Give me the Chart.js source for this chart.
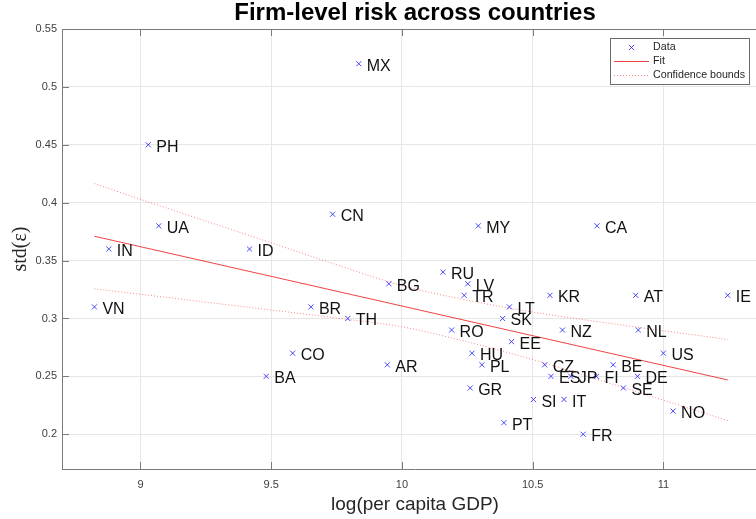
<!DOCTYPE html>
<html>
<head>
<meta charset="utf-8">
<script src="https://cdn.jsdelivr.net/npm/chart.js@4/dist/chart.umd.min.js"></script>
<style>
  html, body { margin: 0; padding: 0; background: #fff; overflow: hidden; }
  #wrap { width: 800px; height: 519px; }
  canvas { display: block; }
</style>
</head>
<body>
<div id="wrap"><canvas id="c" width="800" height="519"></canvas></div>
<script>
// Country codes and their (log per capita GDP, firm-level risk) pairs
const countries = ['MX','PH','CN','UA','MY','CA','IN','ID','RU','BG','LV','TR','KR','AT','IE',
                   'VN','BR','LT','TH','SK','RO','NZ','NL','EE','CO','HU','US','AR','PL','CZ',
                   'BE','BA','ES','JP','FI','DE','GR','SE','SI','IT','NO','PT','FR'];
const logGdp = [9.835, 9.030, 9.735, 9.070, 10.292, 10.746, 8.879, 9.417, 10.157, 9.950, 10.252, 10.238, 10.566, 10.894, 11.246,
                8.824, 9.652, 10.411, 9.793, 10.385, 10.190, 10.614, 10.904, 10.419, 9.582, 10.268, 11.000, 9.944, 10.306, 10.546,
                10.808, 9.481, 10.570, 10.646, 10.744, 10.901, 10.261, 10.847, 10.503, 10.620, 11.037, 10.390, 10.693];
const riskStd = [0.52, 0.45, 0.39, 0.38, 0.38, 0.38, 0.36, 0.36, 0.34, 0.33, 0.33, 0.32, 0.32, 0.32, 0.32,
                 0.31, 0.31, 0.31, 0.30, 0.30, 0.29, 0.29, 0.29, 0.28, 0.27, 0.27, 0.27, 0.26, 0.26, 0.26,
                 0.26, 0.25, 0.25, 0.25, 0.25, 0.25, 0.24, 0.24, 0.23, 0.23, 0.22, 0.21, 0.20];

// Linear fit over the data range
const fitX = [8.824, 11.246];
const fitY = [0.3710, 0.2469];

// Confidence bounds of the fit
const boundX     = [8.824, 9.0, 9.25, 9.5, 9.75, 10.0, 10.25, 10.5, 10.75, 11.0, 11.246];
const upperBound = [0.4165, 0.4029, 0.3841, 0.3653, 0.3464, 0.3284, 0.3158, 0.3055, 0.2972, 0.2894, 0.2819];
const lowerBound = [0.3255, 0.3209, 0.3141, 0.3073, 0.3004, 0.2928, 0.2798, 0.2645, 0.2472, 0.2294, 0.2119];

// Axis ticks
const xTicks = [9, 9.5, 10, 10.5, 11];
const xTickLabels = ['9', '9.5', '10', '10.5', '11'];
const yTicks = [0.2, 0.25, 0.3, 0.35, 0.4, 0.45, 0.5, 0.55];
const yTickLabels = ['0.2', '0.25', '0.3', '0.35', '0.4', '0.45', '0.5', '0.55'];

const SANS = '"Liberation Sans", Arial, Helvetica, sans-serif';
const AXIS_COLOR = '#7a7a7a';
const GRID_COLOR = '#e6e6e6';
const TICK_TEXT = '#404040';
const MARK_BLUE = 'rgba(30,30,255,0.8)';
const FIT_RED = 'rgba(235,20,20,0.8)';
const BOUND_RED = 'rgba(240,40,40,0.55)';

function labelFor(ticks, labels, v) {
  const i = ticks.findIndex(t => Math.abs(t - v) < 1e-9);
  return i >= 0 ? labels[i] : '';
}

// Inward tick marks plus the top and right edges of the axes box
const axesBox = {
  id: 'axesBox',
  afterDatasetsDraw(chart) {
    const {ctx, chartArea: a, scales} = chart;
    const len = 7;
    ctx.save();
    ctx.strokeStyle = AXIS_COLOR;
    ctx.lineWidth = 1;
    ctx.beginPath();
    const top = Math.round(a.top) + 0.5;
    ctx.moveTo(a.left, top); ctx.lineTo(a.right, top);
    ctx.moveTo(Math.round(a.right) - 0.5, a.top); ctx.lineTo(Math.round(a.right) - 0.5, a.bottom);
    xTicks.forEach(v => {
      const px = Math.round(scales.x.getPixelForValue(v)) + 0.5;
      ctx.moveTo(px, a.bottom); ctx.lineTo(px, a.bottom - len);
      ctx.moveTo(px, a.top); ctx.lineTo(px, a.top + len);
    });
    yTicks.forEach(v => {
      const py = Math.round(scales.y.getPixelForValue(v)) + 0.5;
      ctx.moveTo(a.left, py); ctx.lineTo(a.left + len, py);
      ctx.moveTo(a.right, py); ctx.lineTo(a.right - len, py);
    });
    ctx.stroke();
    ctx.restore();
  }
};

// Country code next to each marker
const pointLabels = {
  id: 'pointLabels',
  afterDatasetsDraw(chart) {
    const meta = chart.getDatasetMeta(0);
    const ctx = chart.ctx;
    ctx.save();
    ctx.font = '16px ' + SANS;
    ctx.fillStyle = '#111';
    ctx.textAlign = 'left';
    ctx.textBaseline = 'alphabetic';
    meta.data.forEach((el, i) => {
      ctx.fillText(countries[i], el.x + 8, el.y + 7);
    });
    ctx.restore();
  }
};

// Boxed legend in the upper right corner of the axes
const boxLegend = {
  id: 'boxLegend',
  afterDraw(chart) {
    const ctx = chart.ctx;
    const bx = 610.5, by = 38.5, bw = 139, bh = 46;
    ctx.save();
    ctx.fillStyle = '#fff';
    ctx.fillRect(bx, by, bw, bh);
    ctx.strokeStyle = '#6a6a6a';
    ctx.lineWidth = 1;
    ctx.strokeRect(bx, by, bw, bh);

    const rows = [47.5, 61.5, 75.5];
    const x0 = 614, x1 = 649, tx = 653;
    // Data marker
    ctx.strokeStyle = MARK_BLUE;
    ctx.beginPath();
    const cx = 631.5, cy = rows[0], r = 2.5;
    ctx.moveTo(cx - r, cy - r); ctx.lineTo(cx + r, cy + r);
    ctx.moveTo(cx - r, cy + r); ctx.lineTo(cx + r, cy - r);
    ctx.stroke();
    // Fit sample
    ctx.strokeStyle = FIT_RED;
    ctx.beginPath(); ctx.moveTo(x0, rows[1]); ctx.lineTo(x1, rows[1]); ctx.stroke();
    // Bounds sample
    ctx.strokeStyle = BOUND_RED;
    ctx.setLineDash([1, 2]);
    ctx.beginPath(); ctx.moveTo(x0, rows[2]); ctx.lineTo(x1, rows[2]); ctx.stroke();
    ctx.setLineDash([]);

    ctx.fillStyle = '#262626';
    ctx.font = '10.7px ' + SANS;
    ctx.textAlign = 'left';
    ctx.textBaseline = 'middle';
    ctx.fillText('Data', tx, rows[0]);
    ctx.fillText('Fit', tx, rows[1]);
    ctx.fillText('Confidence bounds', tx, rows[2]);
    ctx.restore();
  }
};

const scatterPts = logGdp.map((x, i) => ({x, y: riskStd[i]}));
const fitPts = fitX.map((x, i) => ({x, y: fitY[i]}));
const upperPts = boundX.map((x, i) => ({x, y: upperBound[i]}));
const lowerPts = boundX.map((x, i) => ({x, y: lowerBound[i]}));

new Chart(document.getElementById('c'), {
  type: 'scatter',
  data: {
    datasets: [
      {
        label: 'Data',
        data: scatterPts,
        pointStyle: 'crossRot',
        pointRadius: 3.6,
        pointBorderWidth: 1,
        borderColor: MARK_BLUE,
        backgroundColor: 'rgba(0,0,0,0)',
        showLine: false
      },
      {
        label: 'Fit',
        data: fitPts,
        showLine: true,
        borderColor: FIT_RED,
        borderWidth: 1,
        pointRadius: 0,
        fill: false
      },
      {
        label: 'Confidence bounds',
        data: upperPts,
        showLine: true,
        borderColor: BOUND_RED,
        borderWidth: 1,
        borderDash: [1, 2],
        pointRadius: 0,
        cubicInterpolationMode: 'monotone',
        fill: false
      },
      {
        label: 'Confidence bounds (lower)',
        data: lowerPts,
        showLine: true,
        borderColor: BOUND_RED,
        borderWidth: 1,
        borderDash: [1, 2],
        pointRadius: 0,
        cubicInterpolationMode: 'monotone',
        fill: false
      }
    ]
  },
  options: {
    responsive: false,
    animation: false,
    devicePixelRatio: 1,
    layout: { padding: { left: 0, right: 32, top: 0, bottom: 0 } },
    plugins: {
      legend: { display: false },
      tooltip: { enabled: false },
      title: {
        display: true,
        fullSize: false,
        text: 'Firm-level risk across countries',
        color: '#000',
        font: { family: SANS, size: 24, weight: 'bold', lineHeight: 1.0 },
        padding: { top: 1.5, bottom: 3.5 }
      }
    },
    scales: {
      x: {
        type: 'linear',
        min: 8.7,
        max: 11.4,
        afterBuildTicks: s => { s.ticks = xTicks.map(v => ({value: v})); },
        afterFit: s => { s.height = 50; },
        grid: { color: GRID_COLOR, drawTicks: false, lineWidth: 1 },
        border: { display: true, color: AXIS_COLOR, width: 1 },
        ticks: {
          color: TICK_TEXT,
          font: { family: SANS, size: 11 },
          padding: 9,
          maxRotation: 0,
          callback: v => labelFor(xTicks, xTickLabels, v)
        },
        title: {
          display: true,
          text: 'log(per capita GDP)',
          color: '#262626',
          font: { family: SANS, size: 19, lineHeight: 1.2 },
          padding: { top: 0, bottom: 3 }
        }
      },
      y: {
        type: 'linear',
        min: 0.17,
        max: 0.55,
        afterBuildTicks: s => { s.ticks = yTicks.map(v => ({value: v})); },
        afterFit: s => { s.width = 62; },
        grid: { color: GRID_COLOR, drawTicks: false, lineWidth: 1 },
        border: { display: true, color: AXIS_COLOR, width: 1 },
        ticks: {
          color: TICK_TEXT,
          font: { family: SANS, size: 11 },
          padding: 5,
          callback: v => labelFor(yTicks, yTickLabels, v)
        },
        title: {
          display: true,
          text: 'std(ε)',
          color: '#262626',
          font: { family: '"Liberation Serif", "Times New Roman", serif', size: 20, lineHeight: 1.2 },
          padding: { top: 9, bottom: 0 }
        }
      }
    }
  },
  plugins: [axesBox, pointLabels, boxLegend]
});
</script>
</body>
</html>
